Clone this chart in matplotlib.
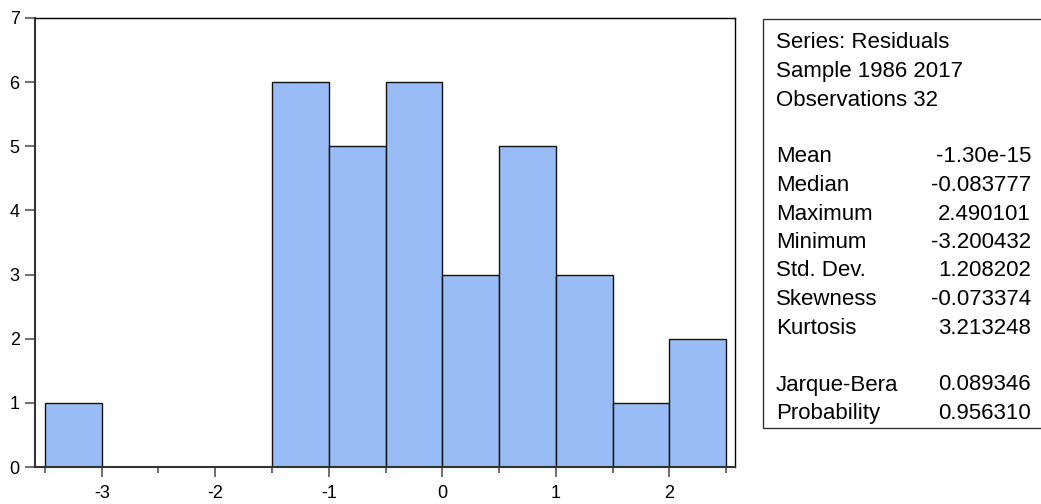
import numpy as np
import matplotlib
matplotlib.use("Agg")
import matplotlib.pyplot as plt

# histogram of residuals (bin width 0.5)
bin_edges = [-3.5, -3.0, -2.5, -2.0, -1.5, -1.0, -0.5, 0.0, 0.5, 1.0, 1.5, 2.0, 2.5]
counts = [1, 0, 0, 0, 6, 5, 6, 3, 5, 3, 1, 2]

header = ["Series: Residuals", "Sample 1986 2017", "Observations 32"]
stat_names = ["Mean", "Median", "Maximum", "Minimum", "Std. Dev.", "Skewness", "Kurtosis"]
stat_values = ["-1.30e-15", "-0.083777", "2.490101", "-3.200432", "1.208202", "-0.073374", "3.213248"]
test_names = ["Jarque-Bera", "Probability"]
test_values = ["0.089346", "0.956310"]

plt.rcParams["font.family"] = ["Liberation Sans", "DejaVu Sans"]
plt.rcParams["axes.unicode_minus"] = False

W, H = 1041, 504
fig = plt.figure(figsize=(W / 100, H / 100), dpi=100)
ax = fig.add_axes([35 / W, (H - 467) / H, (735 - 35) / W, (467 - 18) / H])

edges = np.array(bin_edges)
ax.bar(edges[:-1], counts, width=np.diff(edges), align="edge",
       color="#99bcf7", edgecolor="#111111", linewidth=1.0)

ax.set_xlim(-3.588, 2.579)
ax.set_ylim(0, 7)
ax.set_xticks([-3, -2, -1, 0, 1, 2])
ax.set_xticks(np.arange(-3.5, 2.6, 0.5), minor=True)
ax.set_yticks(range(0, 8))
ax.tick_params(axis="both", which="major", direction="out", length=7,
               width=1.2, color="#555555", labelsize=13)
ax.tick_params(axis="x", which="major", pad=6)
ax.tick_params(axis="y", which="major", pad=4)
ax.tick_params(axis="x", which="minor", direction="out", length=4,
               width=1.2, color="#555555")
for side in ["left", "bottom"]:
    ax.spines[side].set_color("#333333")
    ax.spines[side].set_linewidth(1.5)
for side in ["top", "right"]:
    ax.spines[side].set_color("black")
    ax.spines[side].set_linewidth(1.0)

# statistics box
bx0, bx1, by0, by1 = 763, 1046, 19, 428
box = plt.Rectangle((bx0 / W, 1 - by1 / H), (bx1 - bx0) / W, (by1 - by0) / H,
                    transform=fig.transFigure, facecolor="white",
                    edgecolor="#333333", linewidth=1.0)
fig.patches.append(box)

lx, rx = 776 / W, 1031 / W
fs = 16
step = 28.5
y = 48.5  # baseline of first line, px from top
for line in header:
    fig.text(lx, 1 - y / H, line, fontsize=fs, va="baseline", ha="left")
    y += step
y += step
for name, val in zip(stat_names, stat_values):
    fig.text(lx, 1 - y / H, name, fontsize=fs, va="baseline", ha="left")
    fig.text(rx, 1 - y / H, val, fontsize=fs, va="baseline", ha="right")
    y += step
y += step
for name, val in zip(test_names, test_values):
    fig.text(lx, 1 - y / H, name, fontsize=fs, va="baseline", ha="left")
    fig.text(rx, 1 - y / H, val, fontsize=fs, va="baseline", ha="right")
    y += step

fig.savefig("out.png", dpi=100)
